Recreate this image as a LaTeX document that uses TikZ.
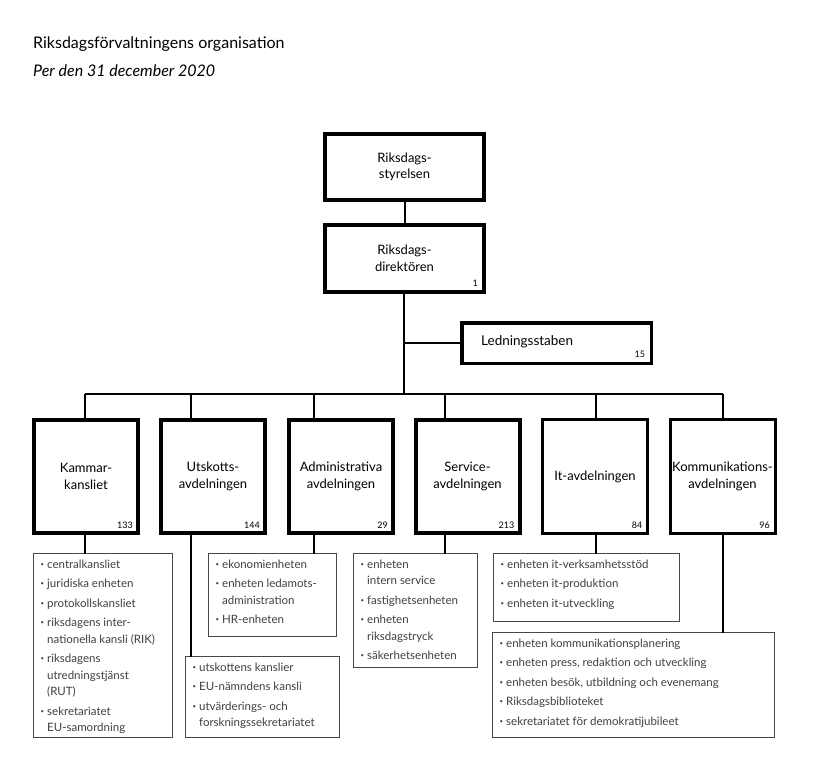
\documentclass[tikz,border=0pt]{standalone}
\usepackage{fontspec}
\setmainfont{Lato}
\usetikzlibrary{calc}
\newcommand{\bu}{\makebox[6.5pt][l]{\raisebox{0.35ex}{\fontsize{6}{6}\selectfont •}}}
\newcommand{\cn}{\hspace*{6.5pt}}
\newcommand{\ig}{\\[3pt]}
\begin{document}
\begin{tikzpicture}[x=1pt,y=-1pt,
  hbox/.style={draw=black, line width=4pt, fill=white, inner sep=0pt, outer sep=0pt, align=center, font=\fontsize{13}{16.5}\selectfont},
  dbox/.style={hbox, minimum width=104pt, minimum height=113pt},
  dboxt/.style={hbox, line width=3pt, minimum width=105pt, minimum height=114pt},
  lbox/.style={draw=black!72, line width=1.1pt, inner sep=0pt, outer sep=0pt, anchor=north west},
  ltext/.style={anchor=north west, align=left, inner sep=0pt, font=\fontsize{11.5}{16.5}\selectfont, text=black!75},
  num/.style={anchor=base east, inner sep=0pt, font=\fontsize{9}{10}\selectfont},
  conn/.style={line width=2pt},
  thinconn/.style={line width=1.3pt}]

\fill[white] (0,0) rectangle (819,778);
\useasboundingbox (0,0) rectangle (819,778);

% titles
\node[anchor=base west, inner sep=0pt, font=\fontsize{16}{18}\selectfont] (title) at (33,49) {Riksdagsförvaltningens organisation};
\node[anchor=base west, inner sep=0pt, font=\fontsize{16}{18}\selectfont\itshape] (sub) at (33,77) {Per den 31 december 2020};

% top boxes
\node[hbox, minimum width=159pt, minimum height=66pt] (sty) at (404.5,167) {Riksdags-\\styrelsen};
\node[hbox, minimum width=159pt, minimum height=67pt] (dir) at (404.5,258.5) {Riksdags-\\direktören};
\node[num] (dirn) at ($(dir.south east)+(-6,-6)$) {1};

\node[hbox, line width=3.5pt, minimum width=189.5pt, minimum height=40.5pt] (led) at (556.5,343) {};
\node[anchor=west, inner sep=0pt, font=\fontsize{13.5}{16}\selectfont] (ledt) at (481,342) {Ledningsstaben};
\node[num] (ledn) at ($(led.south east)+(-6,-6)$) {15};

% departments
\node[dbox] (kam) at (86,476.5) {Kammar-\\kansliet};
\node[dbox] (uts) at (213,476.5) {Utskotts-\\avdelningen};
\node[dbox] (adm) at (341,476.5) {Administrativa\\avdelningen};
\node[dbox] (ser) at (467.5,476.5) {Service-\\avdelningen};
\node[dboxt] (itd) at (595,476.5) {It-avdelningen};
\node[dboxt] (kom) at (722.5,476.5) {Kommunikations-\\avdelningen};

\node[num] (kamn) at ($(kam.south east)+(-5,-5)$) {133};
\node[num] (utsn) at ($(uts.south east)+(-5,-5)$) {144};
\node[num] (admn) at ($(adm.south east)+(-5,-5)$) {29};
\node[num] (sern) at ($(ser.south east)+(-5,-5)$) {213};
\node[num] (itdn) at ($(itd.south east)+(-5,-5)$) {84};
\node[num] (komn) at ($(kom.south east)+(-5,-5)$) {96};

% list boxes
\node[lbox, minimum width=139pt, minimum height=184pt] (kamL) at (33.5,553.5) {};
\node[lbox, minimum width=154pt, minimum height=81pt] (utsL) at (185.5,656.5) {};
\node[lbox, minimum width=128pt, minimum height=83pt] (admL) at (208.5,553.5) {};
\node[lbox, minimum width=124pt, minimum height=114pt] (serL) at (353.5,553.5) {};
\node[lbox, minimum width=186pt, minimum height=68pt] (itL) at (493.5,553.5) {};
\node[lbox, minimum width=282pt, minimum height=105pt] (komL) at (492.5,632.5) {};

\node[ltext] (kamT) at ($(kamL.north west)+(7,6)$) {\bu centralkansliet\ig
\bu juridiska enheten\ig
\bu protokollskansliet\ig
\bu riksdagens inter-\\\cn nationella kansli (RIK)\ig
\bu riksdagens\\\cn utredningstjänst\\\cn (RUT)\ig
\bu sekretariatet\\\cn EU-samordning};
\node[ltext] (utsT) at ($(utsL.north west)+(7,6)$) {\bu utskottens kanslier\ig
\bu EU-nämndens kansli\ig
\bu utvärderings- och\\\cn forskningssekretariatet};
\node[ltext] (admT) at ($(admL.north west)+(7,6)$) {\bu ekonomienheten\ig
\bu enheten ledamots-\\\cn administration\ig
\bu HR-enheten};
\node[ltext] (serT) at ($(serL.north west)+(7,6)$) {\bu enheten\\\cn intern service\ig
\bu fastighetsenheten\ig
\bu enheten\\\cn riksdagstryck\ig
\bu säkerhetsenheten};
\node[ltext] (itT) at ($(itL.north west)+(7,6)$) {\bu enheten it-verksamhetsstöd\ig
\bu enheten it-produktion\ig
\bu enheten it-utveckling};
\node[ltext] (komT) at ($(komL.north west)+(7,6)$) {\bu enheten kommunikationsplanering\ig
\bu enheten press, redaktion och utveckling\ig
\bu enheten besök, utbildning och evenemang\ig
\bu Riksdagsbiblioteket\ig
\bu sekretariatet för demokratijubileet};

% connectors
\coordinate (busM) at (404,394);
\coordinate (busL) at (85,394);
\coordinate (busR) at (723,394);
\coordinate (ledJ) at (busM |- led.west);
\coordinate (utsX) at (191,394);
\coordinate (admX) at (314,394);
\coordinate (serX) at (445,394);
\coordinate (itdX) at (596,394);

\draw[conn] (sty.south) -- (dir.north);
\draw[conn] (dir.south -| busM) -- (busM);
\draw[thinconn] (ledJ) -- (led.west);
\draw[conn] (busL) -- (busR);

\draw[conn] (busL) -- (busL |- kam.north);
\draw[conn] (utsX) -- (utsX |- uts.north);
\draw[thinconn] (admX) -- (admX |- adm.north);
\draw[conn] (serX) -- (serX |- ser.north);
\draw[conn] (itdX) -- (itdX |- itd.north);
\draw[conn] (busR) -- (busR |- kom.north);

\draw[conn] (busL |- kam.south) -- (busL |- kamL.north);
\draw[conn] (utsX |- uts.south) -- (utsX |- utsL.north);
\draw[thinconn] (admX |- adm.south) -- (admX |- admL.north);
\draw[conn] (serX |- ser.south) -- (serX |- serL.north);
\draw[conn] (itdX |- itd.south) -- (itdX |- itL.north);
\draw[conn] (busR |- kom.south) -- (busR |- komL.north);
\end{tikzpicture}
\end{document}
